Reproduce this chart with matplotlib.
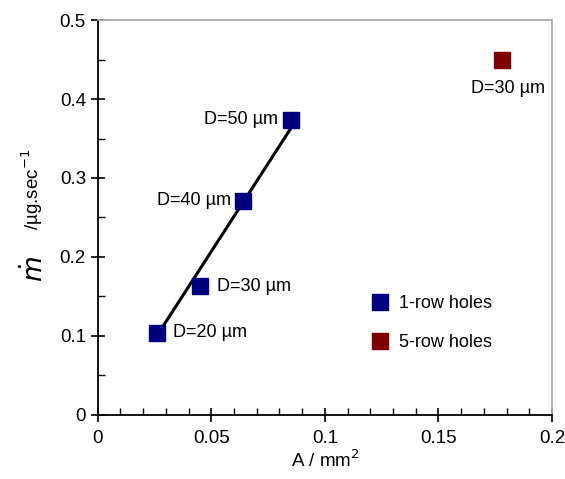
import numpy as np
import matplotlib.pyplot as plt

plt.rcParams['font.family'] = ['Liberation Sans', 'DejaVu Sans']

# 1-row holes
area_1row = [0.026, 0.045, 0.064, 0.085]
mdot_1row = [0.104, 0.163, 0.271, 0.374]
labels_1row = ["D=20 µm", "D=30 µm", "D=40 µm", "D=50 µm"]

# 5-row holes
area_5row = [0.178]
mdot_5row = [0.449]
labels_5row = ["D=30 µm"]

# linear fit through the 1-row data
fit_x = [0.026, 0.0848]
fit_y = [0.100, 0.362]

fig = plt.figure(figsize=(5.65, 4.79), dpi=100)
ax = fig.add_axes([0.173, 0.134, 0.804, 0.824])

ax.plot(fit_x, fit_y, color='black', lw=2.2, zorder=2)
ax.scatter(area_1row, mdot_1row, marker='s', s=120, color='#000080',
           label='1-row holes', zorder=3)
ax.scatter(area_5row, mdot_5row, marker='s', s=120, color='#800000',
           label='5-row holes', zorder=3)

# point labels
offsets = [(12, 0, 'left'), (12, 0, 'left'), (-9, 0, 'right'), (-9, 0, 'right')]
for x, y, t, (dx, dy, ha) in zip(area_1row, mdot_1row, labels_1row, offsets):
    ax.annotate(t, (x, y), xytext=(dx, dy), textcoords='offset points',
                ha=ha, va='center', fontsize=13)
for x, y, t in zip(area_5row, mdot_5row, labels_5row):
    ax.annotate(t, (x, y), xytext=(4, -20), textcoords='offset points',
                ha='center', va='center', fontsize=13)

ax.set_xlim(0, 0.2)
ax.set_ylim(0, 0.5)
ax.set_xticks([0, 0.05, 0.1, 0.15, 0.2])
ax.set_xticklabels(['0', '0.05', '0.1', '0.15', '0.2'])
ax.set_yticks([0, 0.1, 0.2, 0.3, 0.4, 0.5])
ax.set_yticklabels(['0', '0.1', '0.2', '0.3', '0.4', '0.5'])
ax.set_xticks(np.arange(0, 0.2001, 0.01), minor=True)
ax.set_yticks(np.arange(0, 0.5001, 0.05), minor=True)
ax.tick_params(which='major', direction='inout', length=10, width=1.2,
               labelsize=13.5, top=False, right=False)
ax.tick_params(which='minor', direction='in', length=5, width=1.0,
               top=False, right=False)
ax.tick_params(axis='x', which='major', pad=6)

for s in ['left', 'bottom']:
    ax.spines[s].set_linewidth(1.3)
for s in ['top', 'right']:
    ax.spines[s].set_color('#aaaaaa')
    ax.spines[s].set_linewidth(1.3)

ax.set_xlabel('A / mm$^2$', fontsize=13.5, labelpad=2)
# y label: large m-dot plus smaller units
ax.text(-0.14, 0.37, r'$\dot{m}$', transform=ax.transAxes, rotation=90,
        ha='center', va='center', fontsize=19)
ax.text(-0.145, 0.57, '/µg.sec$^{-1}$', transform=ax.transAxes, rotation=90,
        ha='center', va='center', fontsize=13.5)

ax.legend(loc='center left', bbox_to_anchor=(0.565, 0.232), frameon=False,
          fontsize=13, handletextpad=0.05, labelspacing=1.2,
          borderaxespad=0, markerscale=1.0, scatteryoffsets=[0.5])

fig.savefig('out.png', dpi=100)
